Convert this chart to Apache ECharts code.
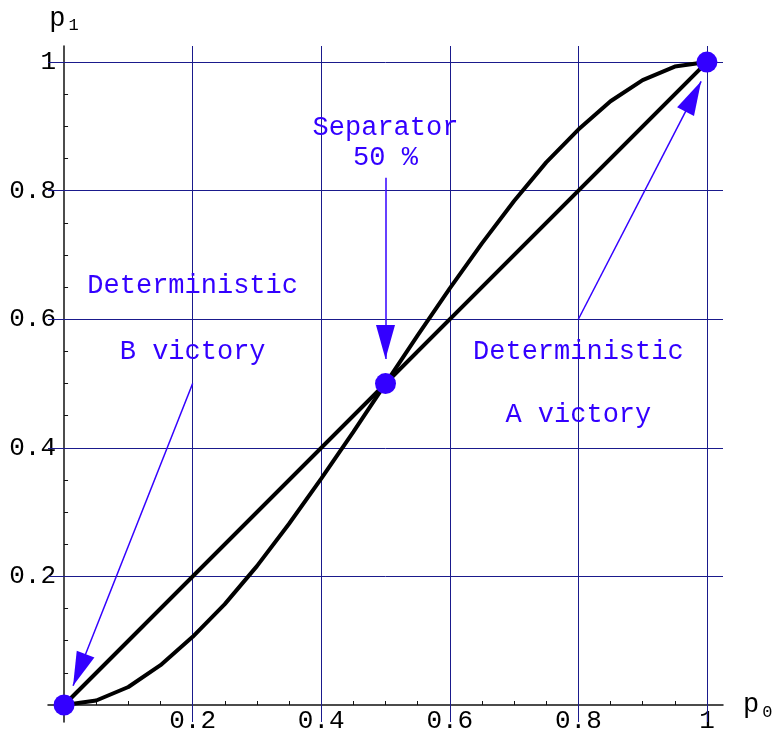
<!DOCTYPE html>
<html>
<head>
<meta charset="utf-8">
<script src="https://cdn.jsdelivr.net/npm/echarts@6/dist/echarts.min.js"></script>
<style>
  html, body { margin: 0; padding: 0; background: #fff; }
  #chart { width: 781px; height: 736px; }
</style>
</head>
<body>
<div id="chart"></div>
<script>
// values
const p0 = [0, 0.05, 0.1, 0.15, 0.2, 0.25, 0.3, 0.35, 0.4, 0.45, 0.5, 0.55, 0.6, 0.65, 0.7, 0.75, 0.8, 0.85, 0.9, 0.95, 1]
const sCurve = [0, 0.007, 0.028, 0.062, 0.106, 0.157, 0.216, 0.282, 0.352, 0.425, 0.5, 0.575, 0.648, 0.718, 0.784, 0.844, 0.895, 0.939, 0.972, 0.993, 1]
const diagonal = [[0, 0], [1, 1]]
const keyPoints = [[0, 0], [0.5, 0.5], [1, 1]]
const gridValues = [0.2, 0.4, 0.6, 0.8, 1]
const tickValues = [0.05, 0.1, 0.15, 0.2, 0.25, 0.3, 0.35, 0.4, 0.45, 0.5, 0.55, 0.6, 0.65, 0.7, 0.75, 0.8, 0.85, 0.9, 0.95, 1]
const notes = [
  { name: 'Deterministic', value: [0.2, 0.652] },
  { name: 'B victory', value: [0.2, 0.549] },
  { name: 'Separator', value: [0.5, 0.897] },
  { name: '50 %', value: [0.5, 0.851] },
  { name: 'Deterministic', value: [0.8, 0.549] },
  { name: 'A victory', value: [0.8, 0.451] }
]
// [from, arrow tip]
const arrows = [
  [[0.2, 0.5], [0.014, 0.03]],
  [[0.5, 0.82], [0.5, 0.538]],
  [[0.8, 0.6], [0.991, 0.97]]
]

const blue = '#3300ff'
const mono = '"Liberation Mono", "Courier New", monospace'

const chart = echarts.init(document.getElementById('chart'))

const axisCommon = {
  type: 'value',
  min: -0.025,
  max: 1.025,
  axisLine: { show: true, onZero: true, lineStyle: { color: '#111', width: 1.5 } },
  axisTick: { show: true, inside: true, length: 4, customValues: tickValues, lineStyle: { color: '#111' } },
  axisLabel: { customValues: gridValues, fontFamily: mono, fontSize: 26, color: '#000' },
  splitLine: { show: false },
  nameTextStyle: {
    rich: {
      p: { fontFamily: mono, fontSize: 27, color: '#000' },
      s: { fontFamily: mono, fontSize: 17, color: '#000', padding: [14, 0, 0, 3] }
    }
  }
}

const option = {
  animation: false,
  grid: { left: 48, right: 58, top: 46, bottom: 14, containLabel: false, outerBoundsMode: 'none' },
  xAxis: Object.assign({}, axisCommon, {
    name: '{p|p}{s|0}',
    nameLocation: 'end',
    nameGap: 20,
    axisLabel: Object.assign({}, axisCommon.axisLabel, { margin: -14 })
  }),
  yAxis: Object.assign({}, axisCommon, {
    min: -0.0264,
    name: '{p|p}{s|1}',
    nameLocation: 'end',
    nameGap: 12,
    axisLabel: Object.assign({}, axisCommon.axisLabel, { margin: -8 })
  }),
  series: [
    {
      // grid lines
      type: 'line',
      data: [],
      z: 1,
      markLine: {
        z: 1,
        silent: true,
        symbol: ['none', 'none'],
        label: { show: false },
        lineStyle: { color: '#1a1a8c', width: 1, type: 'solid' },
        data: gridValues.map(v => ({ xAxis: v })).concat(gridValues.map(v => ({ yAxis: v })))
      }
    },
    {
      type: 'line',
      data: diagonal,
      showSymbol: false,
      z: 3,
      lineStyle: { color: '#000', width: 4 }
    },
    {
      type: 'line',
      data: p0.map((x, i) => [x, sCurve[i]]),
      showSymbol: false,
      z: 3,
      lineStyle: { color: '#000', width: 4 }
    },
    {
      // arrows
      type: 'line',
      data: [],
      z: 4,
      markLine: {
        z: 4,
        silent: true,
        symbol: ['none', 'triangle'],
        symbolSize: [19, 34],
        symbolOffset: [0, [0, '50%']],
        label: { show: false },
        lineStyle: { color: blue, width: 1.5, type: 'solid' },
        data: arrows.map(a => [{ coord: a[0] }, { coord: a[1] }])
      }
    },
    {
      type: 'scatter',
      data: keyPoints,
      symbolSize: 21,
      z: 5,
      itemStyle: { color: blue, opacity: 1 }
    },
    {
      type: 'scatter',
      data: notes,
      symbolSize: 0,
      z: 6,
      itemStyle: { opacity: 1 },
      label: {
        show: true,
        position: 'inside',
        formatter: p => p.name,
        fontFamily: mono,
        fontSize: 27,
        color: blue,
        opacity: 1
      }
    }
  ]
}

chart.setOption(option)
window.addEventListener('resize', () => chart.resize())
</script>
</body>
</html>
